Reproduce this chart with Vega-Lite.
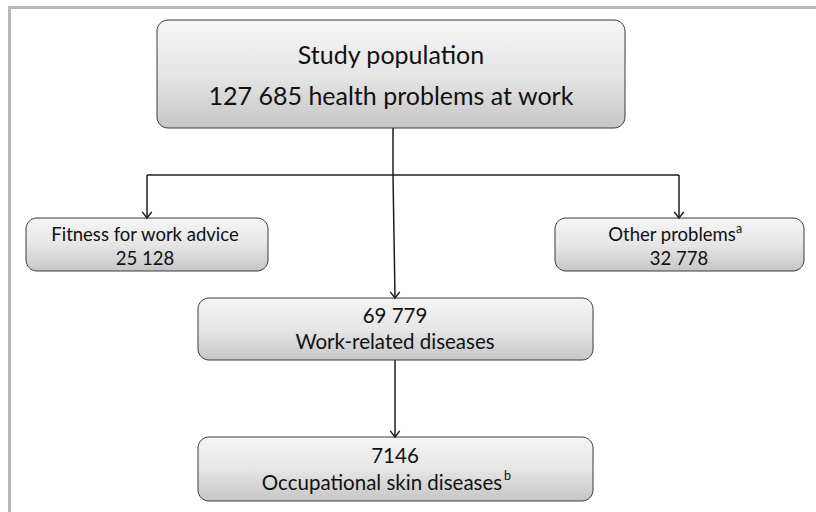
{
  "$schema": "https://vega.github.io/schema/vega-lite/v6.json",
  "width": 816,
  "height": 512,
  "padding": 0,
  "autosize": {"type": "none"},
  "background": "white",
  "config": {"view": {"stroke": null}, "axis": {"disable": true}, "text": {"font": "Lato"}},
  "datasets": {
    "frame": [
      {"x1": 8, "y1": 7.5, "x2": 816, "y2": 7.5},
      {"x1": 9.5, "y1": 7, "x2": 9.5, "y2": 512}
    ],
    "boxes": [
      {"name": "study", "x1": 157, "x2": 625, "y1": 20, "y2": 128},
      {"name": "fitness", "x1": 26, "x2": 268, "y1": 218, "y2": 271},
      {"name": "other", "x1": 555, "x2": 804, "y1": 218, "y2": 271},
      {"name": "wrd", "x1": 198, "x2": 593, "y1": 298, "y2": 360},
      {"name": "osd", "x1": 198, "x2": 593, "y1": 437, "y2": 501}
    ],
    "segments": [
      {"x1": 393, "y1": 128, "x2": 393, "y2": 175},
      {"x1": 147, "y1": 175, "x2": 679, "y2": 175},
      {"x1": 147, "y1": 175, "x2": 147, "y2": 218},
      {"x1": 679, "y1": 175, "x2": 679, "y2": 218},
      {"x1": 393, "y1": 175, "x2": 395, "y2": 298},
      {"x1": 395, "y1": 360, "x2": 395, "y2": 437}
    ],
    "arrows": [
      {"x": 147, "y": 218},
      {"x": 679, "y": 218},
      {"x": 395, "y": 298},
      {"x": 395, "y": 437}
    ],
    "labels": [
      {"level": "top", "x": 391, "y": 56, "text": "Study population"},
      {"level": "top", "x": 391, "y": 97, "text": "127 685 health problems at work"},
      {"level": "side", "x": 145, "y": 235, "text": "Fitness for work advice"},
      {"level": "side", "x": 145, "y": 259, "text": "25 128"},
      {"level": "side", "x": 672, "y": 235, "text": "Other problems"},
      {"level": "sup", "x": 736, "y": 229, "text": "a"},
      {"level": "side", "x": 679, "y": 259, "text": "32 778"},
      {"level": "mid", "x": 395, "y": 317, "text": "69 779"},
      {"level": "mid", "x": 395, "y": 343, "text": "Work-related diseases"},
      {"level": "mid", "x": 395, "y": 457, "text": "7146"},
      {"level": "mid", "x": 382, "y": 484, "text": "Occupational skin diseases"},
      {"level": "sup", "x": 504, "y": 476, "text": "b"}
    ]
  },
  "layer": [
    {
      "data": {"name": "frame"},
      "mark": {"type": "rule", "stroke": "#b8b8b8", "strokeWidth": 3},
      "encoding": {
        "x": {"field": "x1", "type": "quantitative", "scale": {"domain": [0, 816], "nice": false, "zero": false}, "axis": null},
        "y": {"field": "y1", "type": "quantitative", "scale": {"domain": [0, 512], "nice": false, "zero": false, "reverse": true}, "axis": null},
        "x2": {"field": "x2"},
        "y2": {"field": "y2"}
      }
    },
    {
      "data": {"name": "boxes"},
      "mark": {"type": "rect", "cornerRadius": 11, "fill": "#000000", "opacity": 0.12, "xOffset": 2, "yOffset": 3},
      "encoding": {
        "x": {"field": "x1", "type": "quantitative", "scale": {"domain": [0, 816], "nice": false, "zero": false}, "axis": null},
        "x2": {"field": "x2"},
        "y": {"field": "y1", "type": "quantitative", "scale": {"domain": [0, 512], "nice": false, "zero": false, "reverse": true}, "axis": null},
        "y2": {"field": "y2"}
      }
    },
    {
      "data": {"name": "boxes"},
      "mark": {
        "type": "rect",
        "cornerRadius": 11,
        "stroke": "#3a3a3a",
        "strokeWidth": 1,
        "fill": {
          "gradient": "linear",
          "x1": 0, "y1": 0, "x2": 0, "y2": 1,
          "stops": [
            {"offset": 0, "color": "#f5f5f5"},
            {"offset": 0.5, "color": "#e6e6e6"},
            {"offset": 1, "color": "#c6c6c6"}
          ]
        }
      },
      "encoding": {
        "x": {"field": "x1", "type": "quantitative", "scale": {"domain": [0, 816], "nice": false, "zero": false}, "axis": null},
        "x2": {"field": "x2"},
        "y": {"field": "y1", "type": "quantitative", "scale": {"domain": [0, 512], "nice": false, "zero": false, "reverse": true}, "axis": null},
        "y2": {"field": "y2"}
      }
    },
    {
      "data": {"name": "segments"},
      "mark": {"type": "rule", "stroke": "#1e1e1e", "strokeWidth": 1.5},
      "encoding": {
        "x": {"field": "x1", "type": "quantitative", "scale": {"domain": [0, 816], "nice": false, "zero": false}, "axis": null},
        "y": {"field": "y1", "type": "quantitative", "scale": {"domain": [0, 512], "nice": false, "zero": false, "reverse": true}, "axis": null},
        "x2": {"field": "x2"},
        "y2": {"field": "y2"}
      }
    },
    {
      "data": {"name": "arrows"},
      "mark": {"type": "point", "shape": "M-1,-1.3L0,0L1,-1.3", "filled": false, "stroke": "#1e1e1e", "strokeWidth": 1.5, "size": 90, "opacity": 1},
      "encoding": {
        "x": {"field": "x", "type": "quantitative", "scale": {"domain": [0, 816], "nice": false, "zero": false}, "axis": null},
        "y": {"field": "y", "type": "quantitative", "scale": {"domain": [0, 512], "nice": false, "zero": false, "reverse": true}, "axis": null}
      }
    },
    {
      "data": {"name": "labels"},
      "transform": [{"filter": "datum.level === 'top'"}],
      "mark": {"type": "text", "fontSize": 25, "color": "#111111", "align": "center", "baseline": "middle"},
      "encoding": {
        "x": {"field": "x", "type": "quantitative", "scale": {"domain": [0, 816], "nice": false, "zero": false}, "axis": null},
        "y": {"field": "y", "type": "quantitative", "scale": {"domain": [0, 512], "nice": false, "zero": false, "reverse": true}, "axis": null},
        "text": {"field": "text"}
      }
    },
    {
      "data": {"name": "labels"},
      "transform": [{"filter": "datum.level === 'side'"}],
      "mark": {"type": "text", "fontSize": 18.5, "color": "#111111", "align": "center", "baseline": "middle"},
      "encoding": {
        "x": {"field": "x", "type": "quantitative", "scale": {"domain": [0, 816], "nice": false, "zero": false}, "axis": null},
        "y": {"field": "y", "type": "quantitative", "scale": {"domain": [0, 512], "nice": false, "zero": false, "reverse": true}, "axis": null},
        "text": {"field": "text"}
      }
    },
    {
      "data": {"name": "labels"},
      "transform": [{"filter": "datum.level === 'mid'"}],
      "mark": {"type": "text", "fontSize": 20.5, "color": "#111111", "align": "center", "baseline": "middle"},
      "encoding": {
        "x": {"field": "x", "type": "quantitative", "scale": {"domain": [0, 816], "nice": false, "zero": false}, "axis": null},
        "y": {"field": "y", "type": "quantitative", "scale": {"domain": [0, 512], "nice": false, "zero": false, "reverse": true}, "axis": null},
        "text": {"field": "text"}
      }
    },
    {
      "data": {"name": "labels"},
      "transform": [{"filter": "datum.level === 'sup'"}],
      "mark": {"type": "text", "fontSize": 12.5, "color": "#111111", "align": "left", "baseline": "middle"},
      "encoding": {
        "x": {"field": "x", "type": "quantitative", "scale": {"domain": [0, 816], "nice": false, "zero": false}, "axis": null},
        "y": {"field": "y", "type": "quantitative", "scale": {"domain": [0, 512], "nice": false, "zero": false, "reverse": true}, "axis": null},
        "text": {"field": "text"}
      }
    }
  ]
}
